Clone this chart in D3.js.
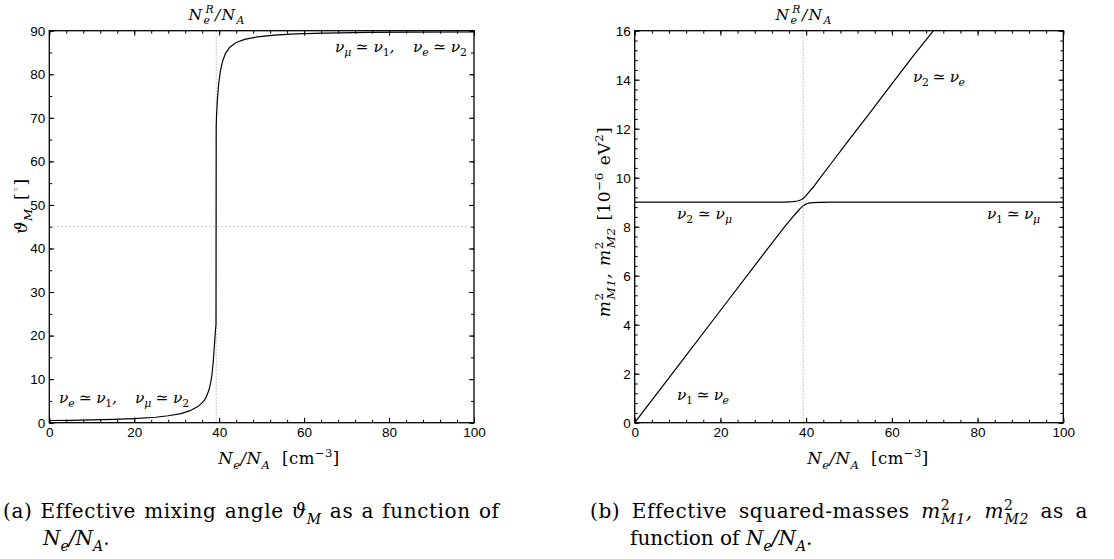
<!DOCTYPE html>
<html>
<head>
<meta charset="utf-8">
<script src="https://cdn.jsdelivr.net/npm/d3@7"></script>
<style>
  html, body { margin: 0; padding: 0; background: #fff; }
  svg { display: block; }
  .tick text { font-family: "Liberation Sans", Arial, sans-serif; font-size: 13.5px; fill: #000; }
  .domain { display: none; }
  .tick line { stroke: #000; stroke-width: 1; }
  .math { font-family: "DejaVu Serif", "Liberation Serif", serif; fill: #000; white-space: pre; }
</style>
</head>
<body>
<svg id="chart" width="1114" height="559"></svg>
<script>
// x axis shared by both panels
const densityTicks = [0, 20, 40, 60, 80, 100];
const resonance = 39.3;

// (a) mixing angle, degrees
const thetaTicks = [0, 10, 20, 30, 40, 50, 60, 70, 80, 90];
const thetaDensity = [0, 5, 10, 15, 20, 25, 28, 31, 33, 35, 36, 36.5, 37, 37.6, 38.0, 38.3, 38.6, 38.9, 39.1, 39.25,
  39.3, 39.4, 39.6, 39.9, 40.3, 40.8, 41.5, 42.5, 44, 46, 49, 53, 58, 65, 75, 85, 100];
const thetaM = [0.5, 0.55, 0.65, 0.75, 0.95, 1.25, 1.6, 2.1, 2.7, 3.7, 4.6, 5.1, 6.0, 7.5, 9.2, 11, 14, 18, 21, 22.5,
  68, 71, 74.5, 78, 80.8, 83, 84.8, 86.2, 87.3, 88.0, 88.6, 89.0, 89.25, 89.45, 89.6, 89.65, 89.7];

// (b) effective squared masses, 1e-6 eV^2
const massTicks = [0, 2, 4, 6, 8, 10, 12, 14, 16];
const m1Density = [0, 10, 20, 30, 35, 37, 38, 38.7, 39.3, 39.9, 40.6, 41.6, 43, 46, 55, 70, 85, 100];
const m1Mass = [0, 2.29, 4.58, 6.87, 8.0, 8.42, 8.62, 8.76, 8.85, 8.92, 8.96, 8.985, 8.995, 9, 9, 9, 9, 9];
const m2Density = [0, 15, 30, 35, 37, 38, 38.7, 39.3, 39.9, 40.6, 41.6, 43, 46, 50, 55, 60, 65, 69.7];
const m2Mass = [9, 9, 9, 9.005, 9.02, 9.05, 9.09, 9.15, 9.25, 9.4, 9.6, 9.93, 10.62, 11.54, 12.68, 13.83, 14.97, 16];

const svg = d3.select("#chart");

// writes a little bit of "latex": parts are [text, style, dx], style one of
// "i" italic, "r" roman, "sub"/"sup" (italic), "subr"/"supr" (roman)
// width: widen the text (a bit of letter spacing, the rest between words) to the original width
function mathText(sel, x, y, size, parts, anchor = "start", width = null) {
  const t = sel.append("text").attr("class", "math").attr("x", x).attr("y", y)
    .attr("font-size", size).attr("text-anchor", anchor);
  let cur = 0;
  parts.forEach(([str, style, dx]) => {
    let target = 0, fs = size, italic = true;
    if (style.startsWith("sub")) { target = 0.28 * size; fs = 0.7 * size; }
    if (style.startsWith("sup")) { target = -0.42 * size; fs = 0.7 * size; }
    if (style === "r" || style.endsWith("r")) italic = false;
    const ts = t.append("tspan").attr("font-size", fs).attr("font-style", italic ? "italic" : "normal")
      .attr("dy", target - cur).text(str);
    if (dx) ts.attr("dx", dx);
    cur = target;
  });
  if (width) {
    const w = t.node().getBBox().width;
    const txt = t.node().textContent;
    const n = txt.length;
    const spaces = (txt.match(/ /g) || []).length;
    let extra = width - w;
    let ls = spaces ? Math.max(Math.min(extra / (n - 1), 0.03 * size), -0.04 * size) : extra / Math.max(n - 1, 1);
    t.attr("letter-spacing", ls);
    extra -= ls * (n - 1);
    if (spaces) t.attr("word-spacing", extra / spaces);
  }
  return t;
}

function drawPanel(p) {
  const x = d3.scaleLinear().domain([0, 100]).range([p.left, p.right]);
  const y = d3.scaleLinear().domain(p.yDomain).range([422.7, 30.7]);
  const g = svg.append("g");

  const clipId = "clip" + p.id;
  svg.append("clipPath").attr("id", clipId).append("rect")
    .attr("x", p.left).attr("y", 30.7).attr("width", p.right - p.left).attr("height", 392);

  // dotted guides
  g.append("line").attr("x1", x(resonance)).attr("x2", x(resonance)).attr("y1", y.range()[1]).attr("y2", y.range()[0])
    .attr("stroke", "#777").attr("stroke-width", 0.8).attr("stroke-dasharray", "1,2");
  if (p.hLine !== undefined) {
    g.append("line").attr("x1", x(0)).attr("x2", x(100)).attr("y1", y(p.hLine)).attr("y2", y(p.hLine))
      .attr("stroke", "#777").attr("stroke-width", 0.8).attr("stroke-dasharray", "1,3");
  }

  // curves
  const line = d3.line().x(d => x(d[0])).y(d => y(d[1]));
  p.series.forEach(s => {
    g.append("path").datum(d3.zip(s.x, s.y)).attr("d", line).attr("clip-path", `url(#${clipId})`)
      .attr("fill", "none").attr("stroke", "#000").attr("stroke-width", 1.2);
  });

  // ticks on all four sides, pointing in
  const yb = y.range()[0], yt = y.range()[1];
  const minorX = d3.range(0, 100.1, 4);
  const minorY = d3.range(p.yDomain[0], p.yDomain[1] + 1e-6, p.yMinor);
  g.append("g").attr("transform", `translate(0,${yb})`)
    .call(d3.axisBottom(x).tickValues(densityTicks).tickSize(-5).tickPadding(5));
  g.append("g").attr("transform", `translate(0,${yb})`)
    .call(d3.axisBottom(x).tickValues(minorX).tickSize(-3).tickFormat(""));
  g.append("g").attr("transform", `translate(0,${yt})`)
    .call(d3.axisTop(x).tickValues(densityTicks).tickSize(-5).tickFormat(""));
  g.append("g").attr("transform", `translate(0,${yt})`)
    .call(d3.axisTop(x).tickValues(minorX).tickSize(-3).tickFormat(""));
  g.append("g").attr("transform", `translate(${p.left},0)`)
    .call(d3.axisLeft(y).tickValues(p.yTicks).tickSize(-5).tickPadding(4));
  g.append("g").attr("transform", `translate(${p.left},0)`)
    .call(d3.axisLeft(y).tickValues(minorY).tickSize(-3).tickFormat(""));
  g.append("g").attr("transform", `translate(${p.right},0)`)
    .call(d3.axisRight(y).tickValues(p.yTicks).tickSize(-5).tickFormat(""));
  g.append("g").attr("transform", `translate(${p.right},0)`)
    .call(d3.axisRight(y).tickValues(minorY).tickSize(-3).tickFormat(""));

  g.append("rect").attr("x", p.left).attr("y", yt).attr("width", p.right - p.left).attr("height", yb - yt)
    .attr("fill", "none").attr("stroke", "#000").attr("stroke-width", 1.3);

  // resonance label on top
  mathText(g, x(resonance) + 1, 20, 15.5, [["N", "i"], ["e", "sub"], ["R", "sup", -6], ["/N", "i"], ["A", "sub"]], "middle", 57);
  // x label
  mathText(g, p.xLabelX, 464, 16.5, [["N", "i"], ["e", "sub"], ["/N", "i"], ["A", "sub"], [" [cm", "r"], ["\u22123", "supr"], ["]", "r"]], "middle", 122);

  p.notes.forEach(n => mathText(g, n.x, n.y, 15.5, n.parts, n.anchor || "start", n.w));
  return g;
}

drawPanel({
  id: "a", left: 49.3, right: 474, yDomain: [0, 90], yTicks: thetaTicks, yMinor: 5, hLine: 45,
  xLabelX: 279,
  series: [{ x: thetaDensity, y: thetaM }],
  notes: [
    { x: 335, y: 52, w: 132, parts: [["\u03bd", "i"], ["\u03bc", "sub"], [" \u2243 \u03bd", "i"], ["1", "subr"], [",    \u03bd", "i"], ["e", "sub"], [" \u2243 \u03bd", "i"], ["2", "subr"]] },
    { x: 59, y: 403, w: 130, parts: [["\u03bd", "i"], ["e", "sub"], [" \u2243 \u03bd", "i"], ["1", "subr"], [",    \u03bd", "i"], ["\u03bc", "sub"], [" \u2243 \u03bd", "i"], ["2", "subr"]] }
  ]
});

drawPanel({
  id: "b", left: 634.7, right: 1063.3, yDomain: [0, 16], yTicks: massTicks, yMinor: 0.4,
  xLabelX: 868,
  series: [{ x: m1Density, y: m1Mass }, { x: m2Density, y: m2Mass }],
  notes: [
    { x: 913, y: 82, w: 52, parts: [["\u03bd", "i"], ["2", "subr"], [" \u2243 \u03bd", "i"], ["e", "sub"]] },
    { x: 677, y: 219, w: 55, parts: [["\u03bd", "i"], ["2", "subr"], [" \u2243 \u03bd", "i"], ["\u03bc", "sub"]] },
    { x: 987, y: 219, w: 53, parts: [["\u03bd", "i"], ["1", "subr"], [" \u2243 \u03bd", "i"], ["\u03bc", "sub"]] },
    { x: 677, y: 400, w: 52, parts: [["\u03bd", "i"], ["1", "subr"], [" \u2243 \u03bd", "i"], ["e", "sub"]] }
  ]
});

// y labels (rotated)
const ylA = mathText(svg, 0, 0, 17, [["\u03d1", "i"], ["M", "sub"], [" [", "r"], ["\u25e6", "supr"], ["]", "r"]], "middle", 55);
ylA.attr("transform", "translate(27,206) rotate(-90)");
const ylB = mathText(svg, 0, 0, 17, [["m", "i"], ["2", "supr"], ["M1", "sub", -7], [", m", "i"], ["2", "supr"], ["M2", "sub", -7],
  [" [10", "r"], ["\u22126", "supr"], [" eV", "r"], ["2", "supr"], ["]", "r"]], "middle", 190);
ylB.attr("transform", "translate(610,222) rotate(-90)");

// captions
mathText(svg, 3, 518, 20, [["(a) Effective mixing angle ", "r"], ["\u03d1", "i"], ["M", "sub"], [" as a function of", "r"]], "start", 497);
mathText(svg, 43, 545, 20, [["N", "i"], ["e", "sub"], ["/N", "i"], ["A", "sub"], [".", "r"]]);
mathText(svg, 590, 518, 20, [["(b) Effective squared-masses ", "r"], ["m", "i"], ["2", "supr"], ["M1", "sub", -9], [", m", "i"], ["2", "supr"], ["M2", "sub", -9], [" as a", "r"]], "start", 497);
mathText(svg, 630, 545, 20, [["function of ", "r"], ["N", "i"], ["e", "sub"], ["/N", "i"], ["A", "sub"], [".", "r"]]);
</script>
</body>
</html>
